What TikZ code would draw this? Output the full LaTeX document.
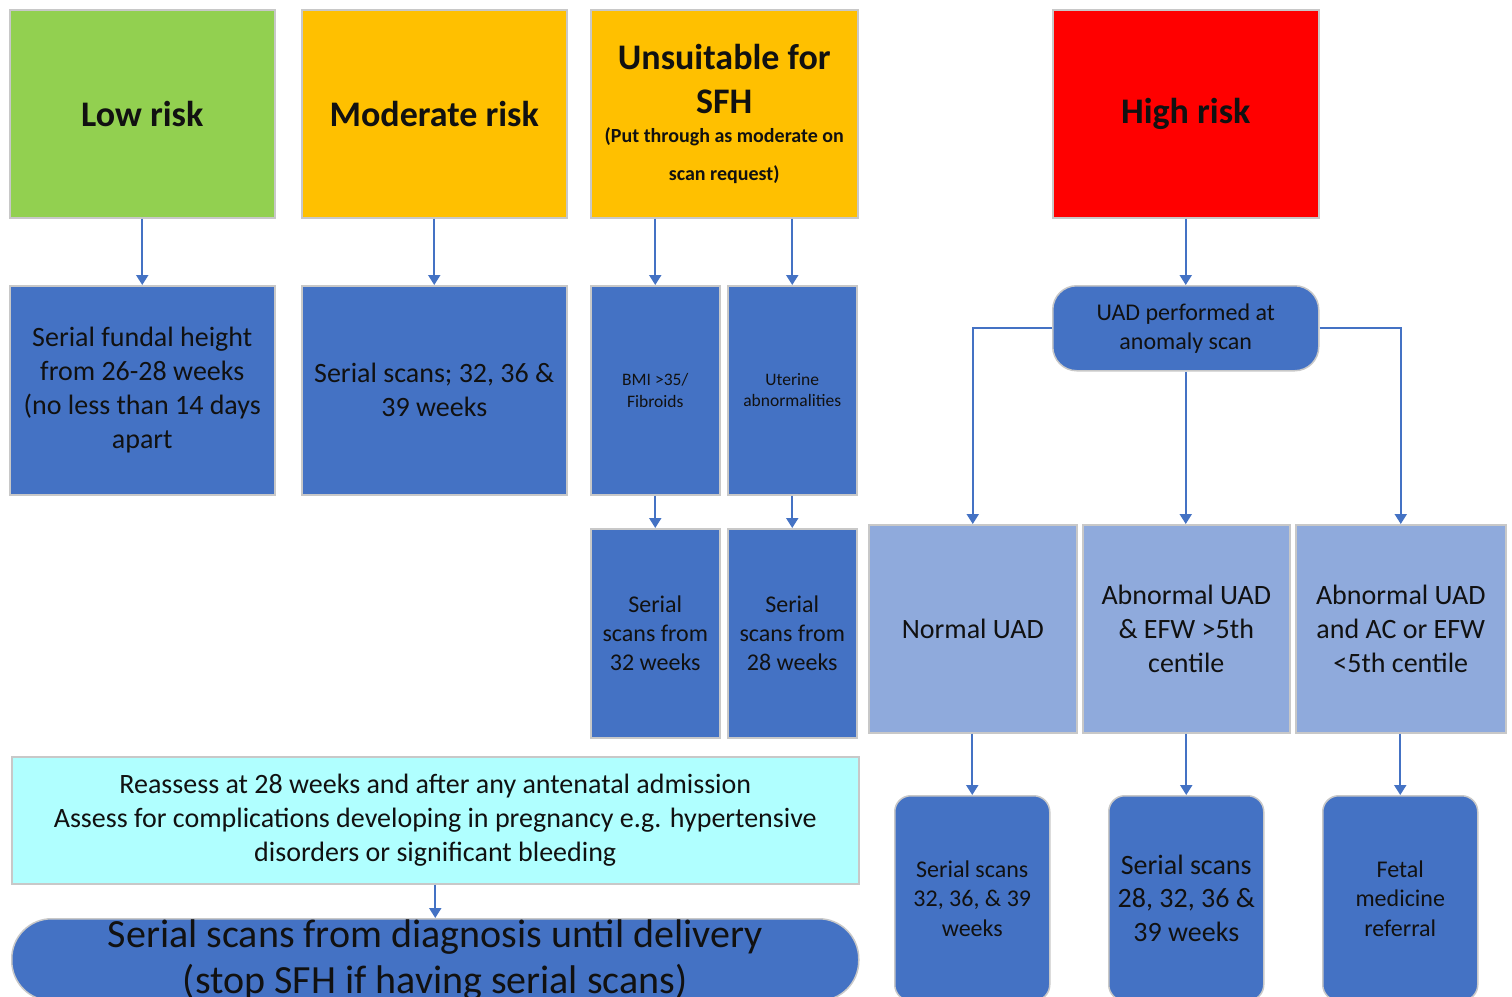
\documentclass[tikz,border=0pt]{standalone}
\usepackage{fontspec}
\setmainfont{Carlito}
\usetikzlibrary{arrows.meta}

\definecolor{lowgreen}{HTML}{92D050}
\definecolor{modorange}{HTML}{FFC000}
\definecolor{highred}{HTML}{FF0000}
\definecolor{midblue}{HTML}{4472C4}
\definecolor{paleblue}{HTML}{8FAADC}
\definecolor{palecyan}{HTML}{B0FFFF}
\definecolor{edgegray}{HTML}{C8C8C8}
\definecolor{ink}{HTML}{111111}

\newcommand{\fs}[2]{\fontsize{#1}{#2}\selectfont}
\newcommand{\subnote}{\fs{20}{38}\bfseries}

\tikzset{
  card/.style={draw=edgegray, line width=1.5pt, inner sep=0pt, anchor=north west,
    align=center, text=ink},
  riskcard/.style={card, font=\fs{36}{44}\bfseries},
  bluecard/.style={card, fill=midblue},
  palecard/.style={card, fill=paleblue, font=\fs{28}{34}},
  flow/.style={draw=midblue, line width=2pt,
    -{Triangle[width=12pt,length=10pt]}},
}

\begin{document}
\begin{tikzpicture}[x=1pt,y=-1pt]
\useasboundingbox (0,0) rectangle (1512,996);
\clip (0,0) rectangle (1512,996);
\fill[white] (0,0) rectangle (1512,996);

% risk categories
\node[riskcard, fill=lowgreen, minimum width=265pt, minimum height=208pt] (low) at (9,9) {Low risk};
\node[riskcard, fill=modorange, minimum width=265pt, minimum height=208pt] (mod) at (301,9) {Moderate risk};
\node[riskcard, fill=modorange, minimum width=267pt, minimum height=208pt] (uns) at (590,9)
  {Unsuitable for\\SFH\\[-15pt]\subnote (Put through as moderate on\\[-6pt]\subnote scan request)};
\node[riskcard, fill=highred, minimum width=266pt, minimum height=208pt] (high) at (1052,9) {High risk};

% second row
\node[bluecard, font=\fs{28}{34}, minimum width=265pt, minimum height=209pt] (fund) at (9,285)
  {Serial fundal height\\from 26-28 weeks\\(no less than 14 days\\apart};
\node[bluecard, font=\fs{28}{34}, minimum width=265pt, minimum height=209pt] (mscan) at (301,285)
  {Serial scans; 32, 36 \&\\39 weeks};
\node[bluecard, font=\fs{17.5}{21.5}, minimum width=129pt, minimum height=209pt] (bmi) at (590,285)
  {BMI >35/\\Fibroids};
\node[bluecard, font=\fs{17.5}{21.5}, minimum width=129pt, minimum height=209pt] (ute) at (727,285)
  {Uterine\\abnormalities};
\node[bluecard, font=\fs{24}{29}, minimum width=129pt, minimum height=209pt] (s32) at (590,528)
  {Serial\\scans from\\32 weeks};
\node[bluecard, font=\fs{24}{29}, minimum width=129pt, minimum height=209pt] (s28) at (727,528)
  {Serial\\scans from\\28 weeks};

% high risk pathway
\node[bluecard, rounded corners=24pt, font=\fs{24}{29}, minimum width=266pt, minimum height=85pt] (uad) at (1052,285)
  {UAD performed at\\anomaly scan};
\node[palecard, minimum width=208pt, minimum height=208pt] (norm) at (868,524) {Normal UAD};
\node[palecard, minimum width=207pt, minimum height=208pt] (abn1) at (1082,524)
  {Abnormal UAD\\\& EFW >5th\\centile};
\node[palecard, minimum width=210pt, minimum height=208pt] (abn2) at (1295,524)
  {Abnormal UAD\\and AC or EFW\\<5th centile};
\node[bluecard, rounded corners=16pt, font=\fs{24}{29.5}, minimum width=155pt, minimum height=205pt] (b1) at (894,795)
  {Serial scans\\32, 36, \& 39\\weeks};
\node[bluecard, rounded corners=16pt, font=\fs{28}{33.5}, minimum width=155pt, minimum height=205pt] (b2) at (1108,795)
  {Serial scans\\28, 32, 36 \&\\39 weeks};
\node[bluecard, rounded corners=16pt, font=\fs{24}{29.5}, minimum width=155pt, minimum height=205pt] (b3) at (1322,795)
  {Fetal\\medicine\\referral};

% reassessment and final step
\node[card, fill=palecyan, font=\fs{28}{34}, minimum width=847pt, minimum height=127pt] (reas) at (11,756)
  {Reassess at 28 weeks and after any antenatal admission\\Assess for complications developing in pregnancy e.g. hypertensive\\disorders or significant bleeding};
\node[bluecard, rounded corners=40pt, font=\fs{40}{46}, minimum width=847pt, minimum height=82pt] (diag) at (11,918)
  {Serial scans from diagnosis until delivery\\(stop SFH if having serial scans)};

% connectors
\draw[flow] (low) -- (fund);
\draw[flow] (mod) -- (mscan);
\draw[flow] (bmi.north |- uns.south) -- (bmi.north);
\draw[flow] (ute.north |- uns.south) -- (ute.north);
\draw[flow] (bmi) -- (s32);
\draw[flow] (ute) -- (s28);
\draw[flow] (high) -- (uad);
\draw[flow] (uad.west) -| (norm.north);
\draw[flow] (uad.south) -- (uad.south |- abn1.north);
\draw[flow] (uad.east) -| (abn2.north);
\draw[flow] (norm.south -| b1.north) -- (b1.north);
\draw[flow] (abn1.south -| b2.north) -- (b2.north);
\draw[flow] (abn2.south -| b3.north) -- (b3.north);
\draw[flow] (reas.south -| diag.north) -- (diag.north);
\end{tikzpicture}
\end{document}
